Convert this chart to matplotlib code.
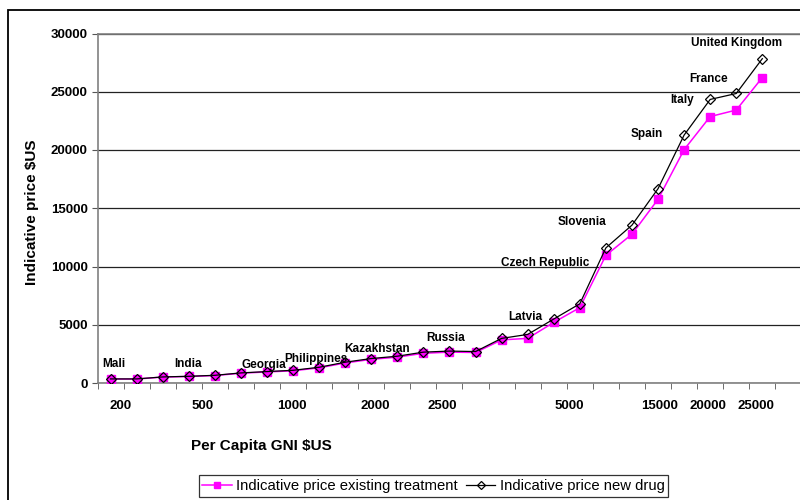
import numpy as np
import matplotlib
matplotlib.use('Agg')
import matplotlib.pyplot as plt
from matplotlib.patches import Rectangle

plt.rcParams['font.family'] = ['Liberation Sans', 'DejaVu Sans']

# indicative prices per country (countries sorted by per capita GNI)
price_existing = [340, 340, 510, 560, 640, 840, 950, 1050, 1300, 1720, 2030, 2220, 2550, 2650, 2620,
                  3700, 3830, 5200, 6470, 10960, 12770, 15770, 20030, 22870, 23430, 26220]
price_new = [350, 350, 520, 575, 660, 866, 980, 1090, 1350, 1785, 2100, 2300, 2650, 2740, 2700,
             3830, 4170, 5490, 6800, 11600, 13550, 16680, 21280, 24340, 24850, 27840]

gni_labels = ['200', '500', '1000', '2000', '2500', '5000', '15000', '20000', '25000']
gni_label_pos = [0.38, 3.55, 6.94, 10.14, 12.72, 17.6, 21.06, 22.9, 24.75]

countries = ['Mali', 'India', 'Georgia', 'Philippines', 'Kazakhstan', 'Russia', 'Latvia',
             'Czech Republic', 'Slovenia', 'Spain', 'Italy', 'France', 'United Kingdom']
country_x = [0.12, 2.99, 5.87, 7.86, 10.24, 12.85, 15.91, 16.67, 18.07, 20.56, 21.94, 22.94, 24.0]
country_y = [1630, 1630, 1545, 2035, 2920, 3890, 5640, 10330, 13850, 21370, 24290, 26100, 29160]

W, H = 800, 500
fig = plt.figure(figsize=(8, 5), dpi=100)

# outer chart border (cropped on the right and bottom)
fig.patches.append(Rectangle((8 / W, -0.1), 1.2, (H - 10) / H + 0.1, transform=fig.transFigure,
                             fill=False, edgecolor='black', linewidth=1.3))

ax = fig.add_axes([97.5 / W, (H - 383) / H, 730 / W, 349.5 / H])
x = np.arange(len(price_new))
ax.plot(x, price_existing, '-', color='#FF00FF', lw=1.1, marker='s', ms=5.5,
        mfc='#FF00FF', mec='#FF00FF', label='Indicative price existing treatment', zorder=3)
ax.plot(x, price_new, '-', color='black', lw=0.9, marker='D', ms=5,
        mfc='none', mec='black', mew=0.9, label='Indicative price new drug', zorder=4)

ax.set_xlim(-0.5, 27.5)
ax.set_ylim(0, 30000)
ax.set_yticks(np.arange(0, 30001, 5000))
ax.yaxis.grid(True, color='#222222', lw=0.9)
ax.set_axisbelow(True)

ax.set_xticks(gni_label_pos)
ax.set_xticklabels(gni_labels, fontweight='bold', fontsize=9.5)
ax.set_xticks(np.arange(-0.5, 28, 1), minor=True)
ax.tick_params(axis='x', which='major', length=0, pad=12.5)
ax.tick_params(axis='x', which='minor', length=4, color='#555555')
ax.tick_params(axis='y', length=4, color='#555555', pad=3, labelsize=9.5)
for lbl in ax.get_yticklabels():
    lbl.set_fontweight('bold')

for s in ['left', 'bottom', 'top']:
    ax.spines[s].set_color('#808080')
    ax.spines[s].set_linewidth(1.2)
ax.spines['right'].set_visible(False)

for name, cx, cy in zip(countries, country_x, country_y):
    ax.text(cx, cy, name, ha='center', va='center', fontsize=8.5, fontweight='bold')

fig.text(261 / W, 1 - 446 / H, 'Per Capita GNI $US', ha='center', va='center',
         fontsize=11, fontweight='bold')
fig.text(32.5 / W, 1 - 212 / H, 'Indicative price $US', ha='center', va='center',
         rotation=90, fontsize=11, fontweight='bold')

leg = fig.legend(loc='center', bbox_to_anchor=(433.5 / W, 1 - 486 / H), ncol=2,
                 fontsize=10.7, frameon=True, fancybox=False, edgecolor='black',
                 handlelength=2.0, handletextpad=0.3, columnspacing=0.5, markerscale=0.75,
                 borderpad=0.25, borderaxespad=0)
leg.get_frame().set_linewidth(0.9)

fig.savefig('out.png', dpi=100)
